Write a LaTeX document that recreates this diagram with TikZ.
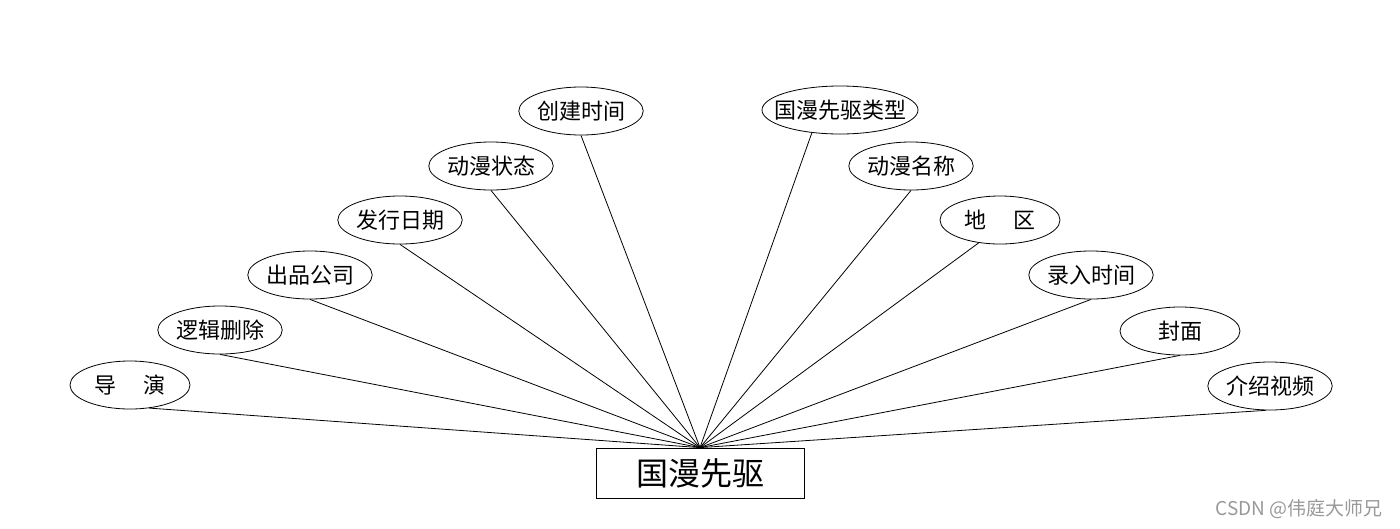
\documentclass[tikz,border=0pt]{standalone}
\usepackage{fontspec}
\newfontfamily\cjk{Noto Sans CJK SC}
\usepackage{tikz}
\usetikzlibrary{shapes.geometric}

\begin{document}
\begin{tikzpicture}[x=1pt,y=-1pt,
    attr/.style={ellipse,draw,line width=0.8pt,inner sep=0pt,minimum width=120pt,minimum height=48pt,font=\cjk\fontsize{22}{24}\selectfont},
    entity/.style={rectangle,draw,line width=0.8pt,inner sep=0pt,minimum width=208pt,minimum height=50pt,font=\cjk\fontsize{32}{36}\selectfont},
    link/.style={line width=0.8pt}]
    % 画布大小
    \useasboundingbox (0,0) rectangle (1400,528);

    % 实体
    \node[entity] (guoman) at (700,473) {国漫先驱};
    \coordinate (hub) at (guoman.north);

    % 左侧属性
    \node[attr] (daoyan) at (130,385) {导\hspace{1.25em}演};
    \node[attr] (luoji) at (220,330) {逻辑删除};
    \node[attr] (chupin) at (310,275) {出品公司};
    \node[attr] (faxing) at (400,220) {发行日期};
    \node[attr] (zhuangtai) at (491,166) {动漫状态};
    \node[attr] (chuangjian) at (581,111) {创建时间};

    % 右侧属性
    \node[attr,minimum width=156pt] (leixing) at (840,110) {\makebox[0pt]{国漫先驱类型}};
    \node[attr] (mingcheng) at (911,166) {动漫名称};
    \node[attr] (diqu) at (1000,220) {地\hspace{1.25em}区};
    \node[attr] (luru) at (1091,275) {录入时间};
    \node[attr] (fengmian) at (1180,331) {封面};
    \node[attr] (shipin) at (1270,386) {介绍视频};

    % 连线
    \draw[link] (daoyan.-50) -- (hub);
    \draw[link] (luoji.south) -- (hub);
    \draw[link] (chupin.south) -- (hub);
    \draw[link] (faxing.south) -- (hub);
    \draw[link] (zhuangtai.south) -- (hub);
    \draw[link] (chuangjian.south) -- (hub);
    \draw[link] (leixing.-141) -- (hub);
    \draw[link] (mingcheng.south) -- (hub);
    \draw[link] (diqu.-133) -- (hub);
    \draw[link] (luru.south) -- (hub);
    \draw[link] (fengmian.south) -- (hub);
    \draw[link] (shipin.-100) -- (hub);

    % 水印
    \node[text=black!40,font=\cjk\fontsize{19}{21}\selectfont,anchor=east] (mark) at (1386,509) {CSDN @伟庭大师兄};
\end{tikzpicture}
\end{document}
